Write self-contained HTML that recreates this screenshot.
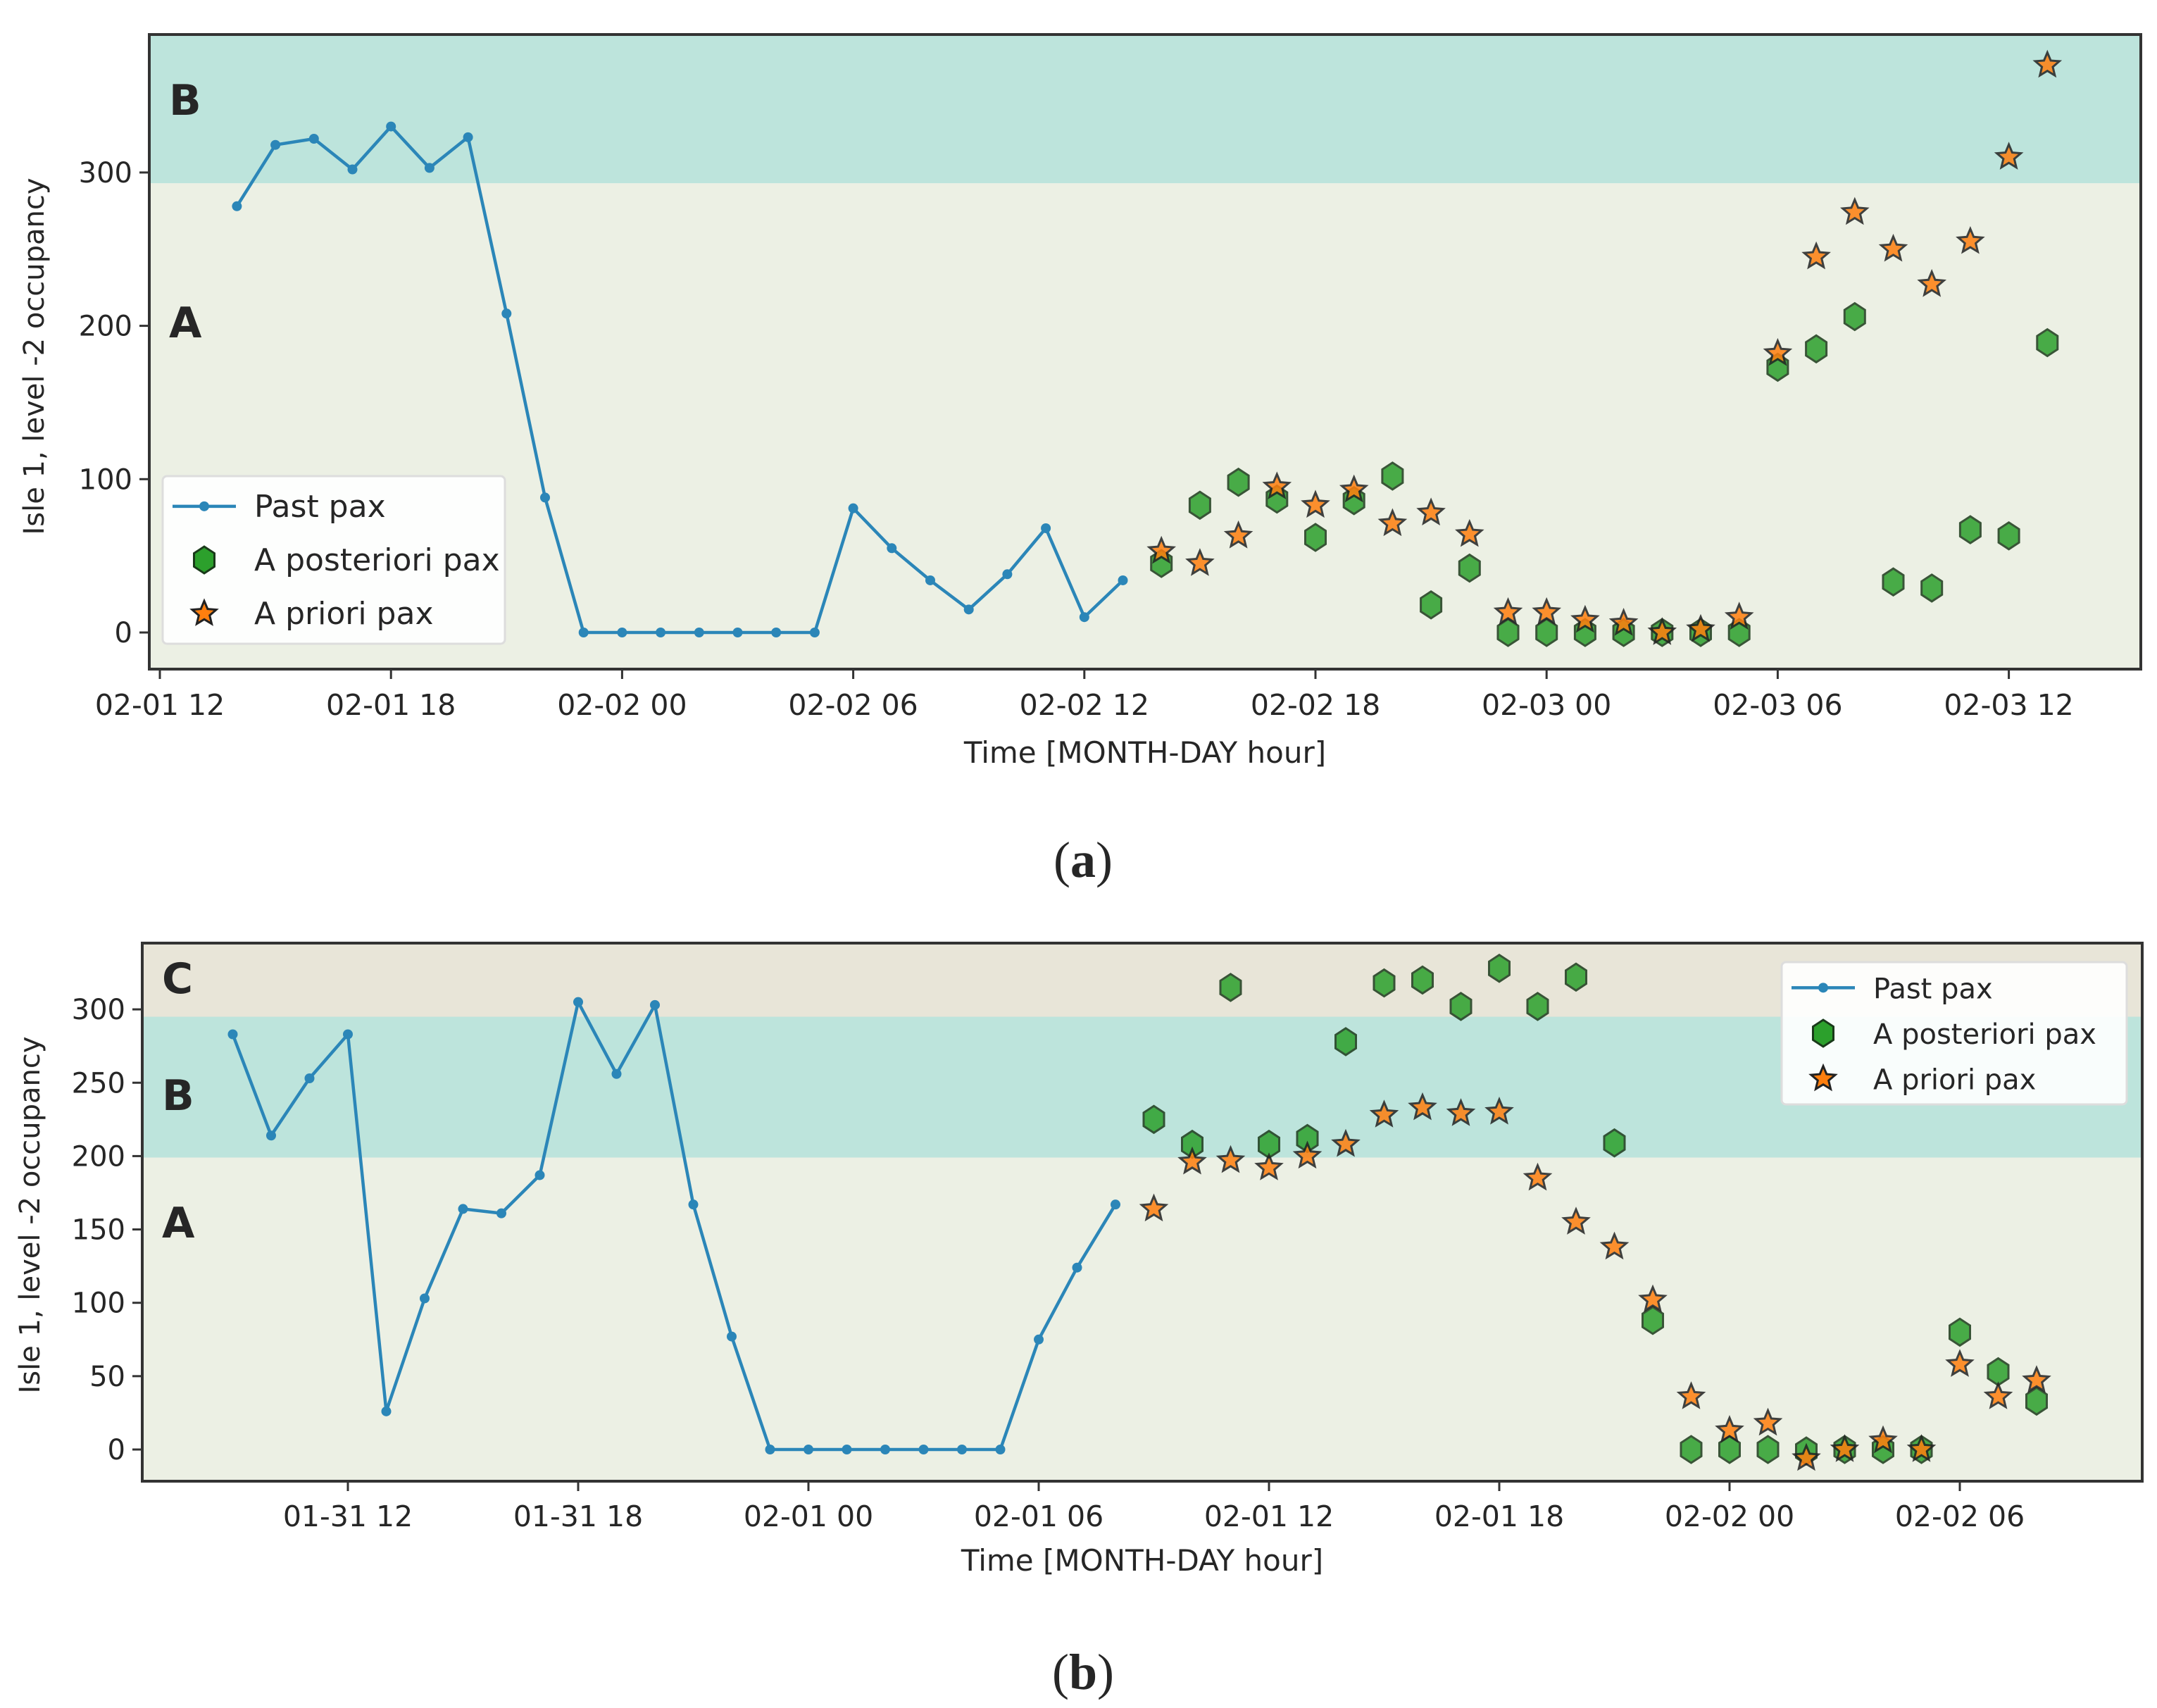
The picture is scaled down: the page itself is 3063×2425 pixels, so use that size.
<!DOCTYPE html>
<html><head><meta charset="utf-8"><style>
html,body{margin:0;padding:0;background:#fff;}
svg{display:block;}
text{font-family:"DejaVu Sans","Liberation Sans",sans-serif;fill:#262626;}
</style></head><body>
<svg id="fig" width="3063" height="2425" viewBox="0 0 3063 2425" xmlns="http://www.w3.org/2000/svg"></svg>
<script>
// ---- Panel (a) data: hours relative to 02-01 00 ----
const aPastHours = [14,15,16,17,18,19,20,21,22,23,24,25,26,27,28,29,30,31,32,33,34,35,36,37];
const aPastValues = [278,318,322,302,330,303,323,208,88,0,0,0,0,0,0,0,81,55,34,15,38,68,10,34];
const aFcHours = [38,39,40,41,42,43,44,45,46,47,48,49,50,51,52,53,54,55,56,57,58,59,60,61];
const aPosterior = [45,83,98,87,62,86,102,18,42,0,0,0,0,0,0,0,173,185,206,33,29,67,63,189];
const aPrior = [53,45,63,95,83,93,71,78,64,13,13,8,6,0,2,10,182,245,274,250,227,255,310,370];
const aTickHours = [12,18,24,30,36,42,48,54,60];
const aTickLabels = ["02-01 12","02-01 18","02-02 00","02-02 06","02-02 12","02-02 18","02-03 00","02-03 06","02-03 12"];
const aYTicks = [0,100,200,300];
// ---- Panel (b) data: hours relative to 01-31 00 ----
const bPastHours = [9,10,11,12,13,14,15,16,17,18,19,20,21,22,23,24,25,26,27,28,29,30,31,32];
const bPastValues = [283,214,253,283,26,103,164,161,187,305,256,303,167,77,0,0,0,0,0,0,0,75,124,167];
const bFcHours = [33,34,35,36,37,38,39,40,41,42,43,44,45,46,47,48,49,50,51,52,53,54,55,56];
const bPosterior = [225,208,315,208,212,278,318,320,302,328,302,322,209,88,0,0,0,-1,0,0,0,80,53,33];
const bPrior = [164,196,197,192,200,208,228,233,229,230,185,155,138,102,36,13,18,-6,0,6,0,58,36,47];
const bTickHours = [12,18,24,30,36,42,48,54];
const bTickLabels = ["01-31 12","01-31 18","02-01 00","02-01 06","02-01 12","02-01 18","02-02 00","02-02 06"];
const bYTicks = [0,50,100,150,200,250,300];

const NS="http://www.w3.org/2000/svg";
const svg=document.getElementById('fig');
function el(tag,attrs,parent){const e=document.createElementNS(NS,tag);for(const k in attrs)e.setAttribute(k,attrs[k]);(parent||svg).appendChild(e);return e;}

function hexPts(cx,cy,r){let p=[];for(let i=0;i<6;i++){const a=Math.PI/6+i*Math.PI/3;p.push((cx+r*0.88*Math.cos(a)).toFixed(1)+','+(cy+r*Math.sin(a)).toFixed(1));}return p.join(' ');}
function starPts(cx,cy,r){let p=[];for(let i=0;i<10;i++){const a=-Math.PI/2+i*Math.PI/5;const rr=i%2?r*0.45:r;p.push((cx+rr*Math.cos(a)).toFixed(1)+','+(cy+rr*Math.sin(a)).toFixed(1));}return p.join(' ');}

function panel(cfg){
  const g=el('g',{});
  
  
  const X=h=>cfg.x0+(h-cfg.h0)*cfg.hpx;
  const Y=v=>cfg.y0-v*cfg.vpx;
  const L=cfg.left,R=cfg.right,T=cfg.top,B=cfg.bottom;
  for(const b of cfg.bands){
    const y1=Math.max(T,Y(b.hi)), y2=Math.min(B,Y(b.lo));
    const r=el('rect',{x:L,y:y1,width:R-L,height:y2-y1,fill:b.color},g);
    
    
    const t=el('text',{x:L+28,y:b.ly+22,'font-size':60,'font-weight':'bold',fill:'#111'},g);
    t.textContent=b.label;
    
    
  }
  for(const v of cfg.yticks){
    el('line',{x1:L-14,x2:L,y1:Y(v),y2:Y(v),stroke:'#333','stroke-width':3},g);
    const t=el('text',{x:L-24,y:Y(v)+14,'font-size':40,'text-anchor':'end'},g);
    t.textContent=v;
    
    
  }
  cfg.xticks.forEach((h,i)=>{
    el('line',{x1:X(h),x2:X(h),y1:B,y2:B+14,stroke:'#333','stroke-width':3},g);
    const t=el('text',{x:X(h),y:cfg.xtickY,'font-size':41,'text-anchor':'middle'},g);
    t.textContent=cfg.xlabels[i];
    
    
  });
  const xt=el('text',{x:(L+R)/2,y:cfg.xtitleY,'font-size':42,'text-anchor':'middle'},g);
  xt.textContent='Time [MONTH-DAY hour]';
  
  
  const yt=el('text',{x:0,y:0,'font-size':40,'text-anchor':'middle',transform:`translate(${cfg.ytitleX},${cfg.ytitleY}) rotate(-90)`},g);
  yt.textContent='Isle 1, level -2 occupancy';
  
  
  const pts=cfg.pastH.map((h,i)=>X(h).toFixed(1)+','+Y(cfg.pastV[i]).toFixed(1)).join(' ');
  const pl=el('polyline',{points:pts,fill:'none',stroke:'#2b86b8','stroke-width':4.5},g);
  
  
  cfg.pastH.forEach((h,i)=>{
    const c=el('circle',{cx:X(h),cy:Y(cfg.pastV[i]),r:7,fill:'#2b86b8'},g);
    
    
  });
  cfg.fcH.forEach((h,i)=>{
    const p=el('polygon',{points:hexPts(X(h),Y(cfg.post[i]),19),fill:'#2ca02c',stroke:'#1a3a1a','stroke-width':3,opacity:0.85},g);
    
    
  });
  cfg.fcH.forEach((h,i)=>{
    const p=el('polygon',{points:starPts(X(h),Y(cfg.prior[i]),18),fill:'#ff7f0e',stroke:'#222','stroke-width':3,opacity:0.85},g);
    
    
  });
  el('rect',{x:L,y:T,width:R-L,height:B-T,fill:'none',stroke:'#333','stroke-width':4},g);
  const lg=el('g',{},g);
  
  
  const lx=cfg.leg.x,ly=cfg.leg.y;
  el('rect',{x:lx,y:ly,width:cfg.leg.w,height:cfg.leg.h,fill:'#fff','fill-opacity':0.9,stroke:'#ddd','stroke-width':3,rx:6},lg);
  const rows=[ly+cfg.leg.h*0.18,ly+cfg.leg.h*0.5,ly+cfg.leg.h*0.82];
  el('line',{x1:lx+14,x2:lx+104,y1:rows[0],y2:rows[0],stroke:'#2b86b8','stroke-width':4.5},lg);
  el('circle',{cx:lx+59,cy:rows[0],r:7,fill:'#2b86b8'},lg);
  el('polygon',{points:hexPts(lx+59,rows[1],19),fill:'#2ca02c',stroke:'#1a3a1a','stroke-width':3},lg);
  el('polygon',{points:starPts(lx+59,rows[2],18),fill:'#ff7f0e',stroke:'#222','stroke-width':3},lg);
  ['Past pax','A posteriori pax','A priori pax'].forEach((s,i)=>{
    const t=el('text',{x:lx+130,y:rows[i]+15,'font-size':cfg.leg.fs},lg);
    t.textContent=s;
    
    
  });
}

panel({name:'panel-a',left:212,right:3040,top:49,bottom:950,h0:12,x0:227,hpx:54.7,y0:898,vpx:2.177,
  bands:[{lo:-100,hi:293,color:'#ecf0e4',label:'A',ly:457},{lo:293,hi:1000,color:'#bde4dc',label:'B',ly:141}],
  yticks:aYTicks,xticks:aTickHours,xlabels:aTickLabels,xtickY:1015,xtitleY:1083,ytitleX:62,ytitleY:506,
  pastH:aPastHours,pastV:aPastValues,fcH:aFcHours,post:aPosterior,prior:aPrior,
  leg:{x:231,y:676,w:486,h:238,fs:44}});
panel({name:'panel-b',left:202,right:3042,top:1339,bottom:2103,h0:12,x0:494,hpx:54.5,y0:2058,vpx:2.083,
  bands:[{lo:-100,hi:199,color:'#ecf0e4',label:'A',ly:1735},{lo:199,hi:295,color:'#bde4dc',label:'B',ly:1554},{lo:295,hi:1000,color:'#e8e5d8',label:'C',ly:1388}],
  yticks:bYTicks,xticks:bTickHours,xlabels:bTickLabels,xtickY:2167,xtitleY:2230,ytitleX:56,ytitleY:1725,
  pastH:bPastHours,pastV:bPastValues,fcH:bFcHours,post:bPosterior,prior:bPrior,
  leg:{x:2530,y:1366,w:490,h:202,fs:40}});

const ca=el('text',{x:1538,y:1245,'font-size':72,'text-anchor':'middle',fill:'#000'});
ca.style.fontFamily='"Liberation Serif",serif';
ca.innerHTML='(<tspan font-weight="bold">a</tspan>)';


const cb=el('text',{x:1538,y:2398,'font-size':72,'text-anchor':'middle',fill:'#000'});
cb.style.fontFamily='"Liberation Serif",serif';
cb.innerHTML='(<tspan font-weight="bold">b</tspan>)';


</script>
</body></html>
